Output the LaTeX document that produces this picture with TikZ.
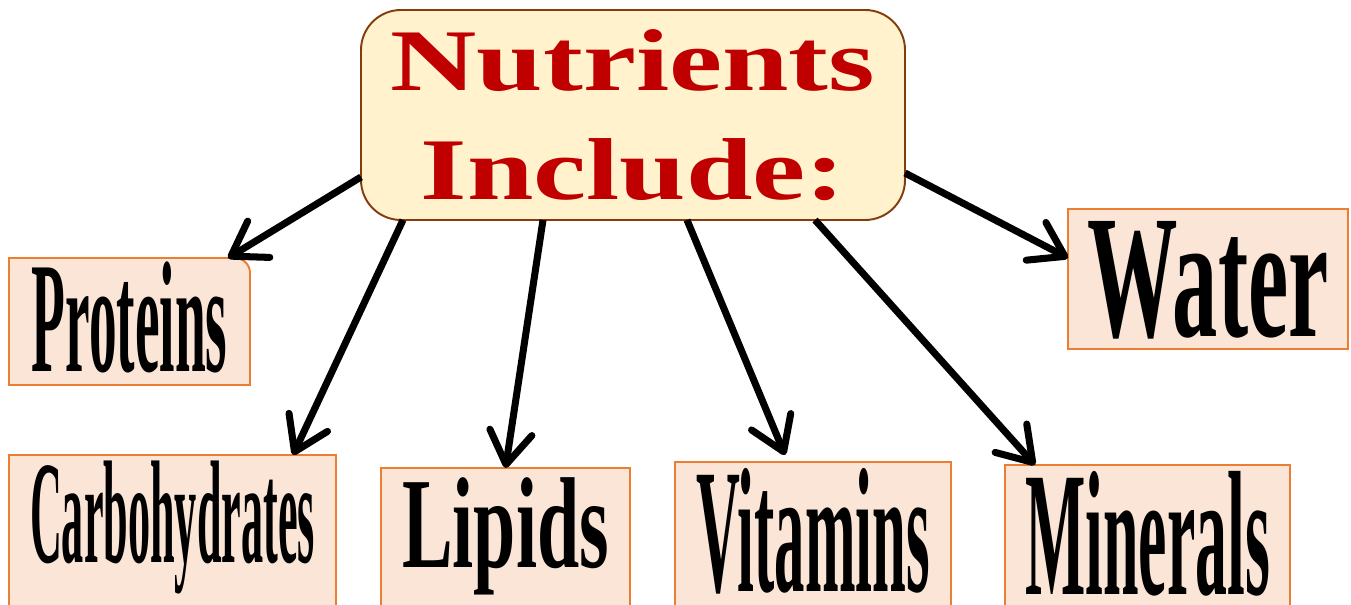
\documentclass[tikz,border=0pt]{standalone}
\usepackage{fontspec}
\setmainfont{Liberation Serif}
\usepackage{graphicx}
\usetikzlibrary{arrows.meta,backgrounds}
\definecolor{titlefill}{HTML}{FFF2CC}
\definecolor{titleline}{HTML}{843C0C}
\definecolor{titletext}{HTML}{C00000}
\definecolor{leaffill}{HTML}{FBE5D6}
\definecolor{leafline}{HTML}{ED7D31}
\newcommand{\squeezed}[3]{\fontsize{#1}{#1}\selectfont\scalebox{#2}[1]{#3}}

\begin{document}
\begin{tikzpicture}[
  title/.style={draw=titleline,fill=titlefill,line width=1.1pt,rounded corners=0.8cm,inner sep=0pt,outer sep=0pt,
    minimum width=10.88cm,minimum height=4.2cm,align=center,text=titletext,font=\fontsize{50}{62}\selectfont\bfseries},
  leaf/.style={draw=leafline,fill=leaffill,line width=1.1pt,inner sep=0pt,outer sep=0pt,anchor=base,font=\bfseries},
  link/.style={line width=4pt,-{Straight Barb[length=6.5mm,width=8.5mm,round]}}]
  \useasboundingbox (0,0) rectangle (27.02,12.1);
  \clip (0,0) rectangle (27.02,12.1);
  % caja central
  \node[title] (nutr) at (12.66,9.8) {\scalebox{1.36}[1]{Nutrients}\\\scalebox{1.36}[1]{Include:}};
  % hojas
  \node[leaf,draw=none,fill=none,minimum width=4.82cm,text height=2.28cm,text depth=0.26cm] (prot) at (2.59,4.66) {\squeezed{90}{0.35}{Proteins}};
  \node[leaf,minimum width=6.54cm,text height=2.16cm,text depth=1.3cm] (carb) at (3.45,0.84) {\squeezed{83.3}{0.302}{Carbohydrates}};
  \node[leaf,minimum width=4.98cm,text height=2.0cm,text depth=1.3cm] (lip) at (10.11,0.74) {\squeezed{73.7}{0.586}{Lipids}};
  \node[leaf,minimum width=5.52cm,text height=2.6cm,text depth=1.0cm] (vit) at (16.26,0.26) {\squeezed{101}{0.342}{Vitamins}};
  \node[leaf,minimum width=5.7cm,text height=2.6cm,text depth=1.0cm] (min) at (22.95,0.2) {\squeezed{101}{0.36}{Minerals}};
  \node[leaf,minimum width=5.6cm,text height=2.56cm,text depth=0.24cm] (wat) at (24.16,5.36) {\squeezed{100}{0.515}{Water}};
  % caja de proteins con una esquina redonda
  \begin{scope}[on background layer]
    \filldraw[draw=leafline,fill=leaffill,line width=1.1pt] (prot.south west) -- (prot.north west) -- ([xshift=-0.3cm]prot.north east)
      arc[start angle=90,end angle=0,radius=0.3cm] -- (prot.south east) -- cycle;
  \end{scope}
  % flechas
  \draw[link] ([yshift=0.86cm]nutr.south west) -- ([xshift=-0.44cm]prot.north east);
  \draw[link] ([xshift=-4.6cm]nutr.south) -- ([xshift=-0.86cm]carb.north east);
  \draw[link] ([xshift=-1.8cm]nutr.south) -- (lip.north);
  \draw[link] ([xshift=1.08cm]nutr.south) -- ([xshift=-0.56cm,yshift=0.14cm]vit.north);
  \draw[link] ([xshift=3.64cm]nutr.south) -- ([xshift=0.6cm]min.north west);
  \draw[link] ([yshift=0.94cm]nutr.south east) -- ([yshift=0.42cm]wat.west);
\end{tikzpicture}
\end{document}
